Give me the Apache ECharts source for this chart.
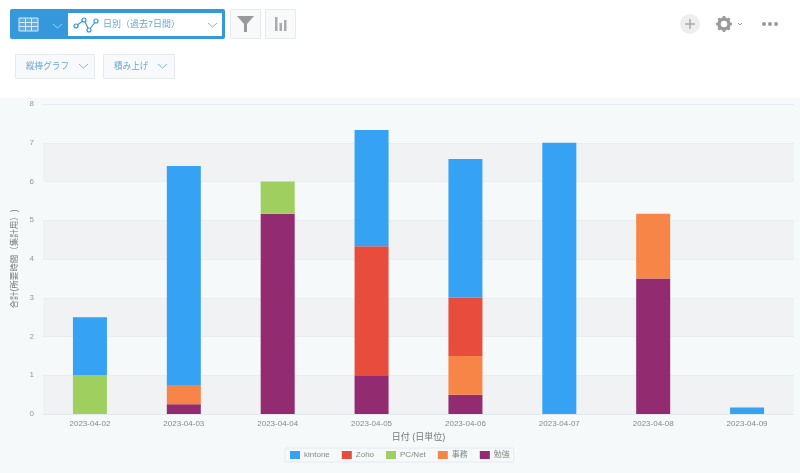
<!DOCTYPE html>
<html>
<head>
<meta charset="utf-8">
<style>
html, body { margin: 0; padding: 0; background: #fff; }
#chart { width: 800px; height: 473px; }
</style>
<script src="https://cdn.jsdelivr.net/npm/echarts@6/dist/echarts.min.js"></script>
</head>
<body>
<div id="chart"></div>
<script>
var categories = ['2023-04-02', '2023-04-03', '2023-04-04', '2023-04-05', '2023-04-06', '2023-04-07', '2023-04-08', '2023-04-09'];
var benkyo = [0, 0.25, 5.17, 1, 0.5, 0, 3.5, 0];
var jimu = [0, 0.5, 0, 0, 1, 0, 1.67, 0];
var pcNet = [1, 0, 0.83, 0, 0, 0, 0, 0];
var zoho = [0, 0, 0, 3.33, 1.5, 0, 0, 0];
var kintone = [1.5, 5.65, 0, 3, 3.58, 7, 0, 0.17];
var legendOrder = ['kintone', 'Zoho', 'PC/Net', '事務', '勉強'];

var FONT = '"Liberation Sans", "Noto Sans CJK JP", sans-serif';
var BLUE = '#3498db';
var GREY = '#9a9a9a';

function chevron(x, y, color) {
	return {
		type: 'polyline',
		shape: { points: [[x, y], [x + 4.5, y + 4], [x + 9, y]] },
		style: { fill: 'none', stroke: color, lineWidth: 1 }
	};
}

function box(x, y, w, h, fill, stroke) {
	return {
		type: 'rect',
		shape: { x: x + 0.5, y: y + 0.5, width: w, height: h },
		style: { fill: fill, stroke: stroke, lineWidth: 1 }
	};
}

function label(x, y, text, color, size) {
	return {
		type: 'text',
		x: x,
		y: y,
		style: { text: text, fill: color, font: size + 'px ' + FONT, textVerticalAlign: 'middle' }
	};
}

function toolbar() {
	var items = [];
	items.push({ type: 'rect', shape: { x: 0, y: 98, width: 800, height: 375 }, style: { fill: '#f5f9fa' } });

	// view switcher
	items.push({ type: 'rect', shape: { x: 10, y: 9, width: 215, height: 30, r: 2 }, style: { fill: BLUE } });
	items.push({ type: 'rect', shape: { x: 68, y: 13, width: 154, height: 23 }, style: { fill: '#fff' } });
	items.push({ type: 'rect', shape: { x: 19, y: 18, width: 19, height: 13 }, style: { fill: '#5dade2', stroke: '#d6eaf8', lineWidth: 1 } });
	[22.5, 26.5].forEach(function (y) {
		items.push({ type: 'line', shape: { x1: 19, y1: y, x2: 38, y2: y }, style: { stroke: '#d6eaf8', lineWidth: 1 } });
	});
	[25.5, 31.5].forEach(function (x) {
		items.push({ type: 'line', shape: { x1: x, y1: 18, x2: x, y2: 31 }, style: { stroke: '#d6eaf8', lineWidth: 1 } });
	});
	items.push(chevron(53, 24, '#a9d4f0'));
	items.push(chevron(208, 23, '#7fb8e0'));

	// line icon
	var pts = [[76, 26], [84, 20], [89, 30], [96, 21]];
	items.push({ type: 'polyline', shape: { points: pts }, style: { fill: 'none', stroke: BLUE, lineWidth: 1.2 } });
	pts.forEach(function (p) {
		items.push({ type: 'circle', shape: { cx: p[0], cy: p[1], r: 2 }, style: { fill: '#fff', stroke: BLUE, lineWidth: 1.2 } });
	});
	items.push(label(103, 25, '日別（過去7日間）', '#6aa8d6', 9));

	// filter + chart buttons
	items.push(box(230, 9, 30, 29, '#f7f9fa', '#e6eaec'));
	items.push({ type: 'polygon', shape: { points: [[237, 16], [254, 16], [247, 24], [247, 32], [244, 32], [244, 24]] }, style: { fill: '#999' } });
	items.push(box(265, 9, 30, 29, '#f7f9fa', '#e6eaec'));
	items.push({ type: 'rect', shape: { x: 275, y: 17, width: 2.5, height: 14 }, style: { fill: '#aaa' } });
	items.push({ type: 'rect', shape: { x: 279.5, y: 23, width: 2.5, height: 8 }, style: { fill: '#aaa' } });
	items.push({ type: 'rect', shape: { x: 284, y: 20, width: 2.5, height: 11 }, style: { fill: '#aaa' } });

	// dropdowns
	items.push(box(15, 54, 79, 24, '#f7f9fa', '#e6eaec'));
	items.push(label(26, 67, '縦棒グラフ', '#6aa8d6', 8.6));
	items.push(chevron(79, 64, '#7fb8e0'));
	items.push(box(103, 54, 71, 24, '#f7f9fa', '#e6eaec'));
	items.push(label(114, 67, '積み上げ', '#6aa8d6', 8.6));
	items.push(chevron(158, 64, '#7fb8e0'));

	// right side icons
	items.push({ type: 'circle', shape: { cx: 690, cy: 24, r: 10 }, style: { fill: '#eeeeee' } });
	items.push({ type: 'line', shape: { x1: 685, y1: 24, x2: 695, y2: 24 }, style: { stroke: GREY, lineWidth: 1.2 } });
	items.push({ type: 'line', shape: { x1: 690, y1: 19, x2: 690, y2: 29 }, style: { stroke: GREY, lineWidth: 1.2 } });
	items.push({ type: 'circle', shape: { cx: 724, cy: 24, r: 5 }, style: { fill: 'none', stroke: GREY, lineWidth: 3.5 } });
	for (var i = 0; i < 8; i++) {
		var a = i * Math.PI / 4;
		items.push({
			type: 'line',
			shape: { x1: 724 + 6 * Math.cos(a), y1: 24 + 6 * Math.sin(a), x2: 724 + 8 * Math.cos(a), y2: 24 + 8 * Math.sin(a) },
			style: { stroke: GREY, lineWidth: 2.5 }
		});
	}
	items.push({
		type: 'polyline',
		shape: { points: [[738, 23], [740, 25], [742, 23]] },
		style: { fill: 'none', stroke: GREY, lineWidth: 1 }
	});
	[764, 770, 776].forEach(function (x) {
		items.push({ type: 'circle', shape: { cx: x, cy: 24, r: 2 }, style: { fill: GREY } });
	});
	return items;
}

function stack(name, values, color) {
	return {
		name: name,
		type: 'bar',
		stack: 'total',
		barWidth: 34,
		itemStyle: { color: color },
		data: values.map(function (v) { return v === 0 ? null : v; })
	};
}

var myChart = echarts.init(document.getElementById('chart'), null, { renderer: 'canvas' });
var option = {
	animation: false,
	backgroundColor: '#fff',
	graphic: { elements: toolbar() },
	grid: { left: 43, right: 6, top: 104, bottom: 59, containLabel: false },
	legend: {
		data: legendOrder,
		left: 285,
		top: 448,
		orient: 'horizontal',
		itemWidth: 10,
		itemHeight: 8,
		itemGap: 12,
		padding: [3, 4, 3, 5],
		borderColor: '#e6eaec',
		borderWidth: 1,
		icon: 'rect',
		textStyle: { color: '#888', fontSize: 8, fontFamily: FONT, padding: [0, 0, 0, -1] }
	},
	xAxis: {
		type: 'category',
		data: categories,
		name: '日付 (日単位)',
		nameLocation: 'middle',
		nameGap: 16,
		nameTextStyle: { color: '#777', fontSize: 9, fontFamily: FONT },
		axisLine: { lineStyle: { color: '#e3e8ec' } },
		axisTick: { length: 5, lineStyle: { color: '#d3dce6' } },
		axisLabel: { color: '#888', fontSize: 8, margin: 6, fontFamily: FONT }
	},
	yAxis: {
		type: 'value',
		min: 0,
		max: 8,
		interval: 1,
		name: '合計(所要時間（集計用）)',
		nameLocation: 'middle',
		nameGap: 23,
		nameTextStyle: { color: '#777', fontSize: 8.5, fontFamily: FONT },
		axisLine: { show: false },
		axisTick: { show: false },
		axisLabel: { color: '#999', fontSize: 8, margin: 9, padding: [3, 0, 0, 0], fontFamily: FONT },
		splitLine: { lineStyle: { color: '#ebeef0' } },
		splitArea: { show: true, areaStyle: { color: ['#f0f2f4', '#f5f9fa'] } }
	},
	series: [
		stack('勉強', benkyo, '#922b70'),
		stack('事務', jimu, '#f78547'),
		stack('PC/Net', pcNet, '#9ecf5f'),
		stack('Zoho', zoho, '#e74c3c'),
		stack('kintone', kintone, '#35a2f4')
	]
};
myChart.setOption(option);
</script>
</body>
</html>
